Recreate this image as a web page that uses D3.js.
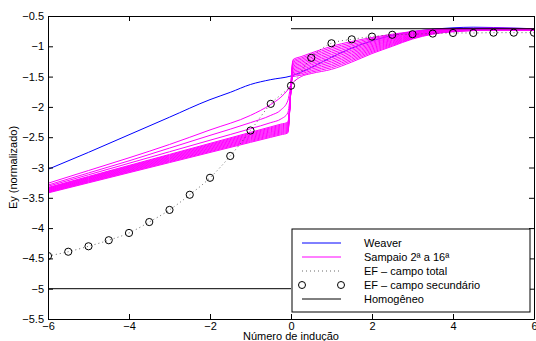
<!DOCTYPE html>
<html>
<head>
<meta charset="utf-8">
<script src="https://cdn.jsdelivr.net/npm/d3@7"></script>
<style>
  body { margin: 0; background: #fff; }
  svg { display: block; font-family: "Liberation Sans", Arial, sans-serif; }
  .tick text { font-size: 11px; fill: #000; }
  .legend-text { font-size: 11px; fill: #000; }
  .axis-title { font-size: 11px; fill: #000; }
</style>
</head>
<body>
<svg id="chart" width="536" height="341"></svg>
<script>
// Weaver analytic solution
const weaverX = [-6, -5, -4, -3, -2, -1.5, -1, -0.5, 0, 0.5, 1, 1.5, 2, 2.5, 3, 3.5, 4, 4.5, 5, 5.5, 6];
const weaverY = [-3.03, -2.75, -2.46, -2.17, -1.88, -1.76, -1.63, -1.55, -1.49, -1.35, -1.18, -1.03, -0.91, -0.82, -0.76, -0.72, -0.695, -0.685, -0.69, -0.70, -0.71];

// Sampaio approximations, 2nd to 16th order (shared x grid)
const sampaioX = [-6, -5, -4, -3, -2, -1, -0.5, -0.25, -0.08, 0.05, 0.25, 0.5, 1, 1.5, 2, 2.5, 3, 3.5, 4, 5, 6];
const sampaio02 = [-3.26, -3.05, -2.84, -2.62, -2.38, -2.14, -1.96, -1.84, -1.72, -1.60, -1.50, -1.45, -1.38, -1.26, -1.12, -1.0, -0.88, -0.80, -0.76, -0.735, -0.735];
const sampaio03 = [-3.29, -3.09, -2.89, -2.68, -2.47, -2.26, -2.14, -2.05, -1.9, -1.50, -1.477, -1.426, -1.353, -1.236, -1.101, -0.986, -0.871, -0.794, -0.756, -0.733, -0.733];
const sampaio04 = [-3.31, -3.12, -2.93, -2.74, -2.55, -2.36, -2.26, -2.2, -2.1, -1.478, -1.453, -1.402, -1.326, -1.212, -1.082, -0.971, -0.862, -0.789, -0.752, -0.73, -0.731];
const sampaio05 = [-3.33, -3.148, -2.966, -2.784, -2.602, -2.42, -2.329, -2.284, -2.253, -1.457, -1.43, -1.377, -1.299, -1.187, -1.063, -0.957, -0.853, -0.783, -0.748, -0.728, -0.73];
const sampaio06 = [-3.338, -3.157, -2.977, -2.796, -2.616, -2.435, -2.345, -2.3, -2.269, -1.435, -1.406, -1.353, -1.271, -1.163, -1.044, -0.943, -0.844, -0.777, -0.744, -0.725, -0.728];
const sampaio07 = [-3.346, -3.167, -2.988, -2.808, -2.629, -2.45, -2.36, -2.316, -2.285, -1.414, -1.382, -1.329, -1.244, -1.139, -1.025, -0.929, -0.835, -0.771, -0.74, -0.723, -0.726];
const sampaio08 = [-3.354, -3.176, -2.998, -2.821, -2.643, -2.465, -2.376, -2.332, -2.301, -1.392, -1.359, -1.304, -1.217, -1.114, -1.006, -0.914, -0.826, -0.766, -0.736, -0.72, -0.724];
const sampaio09 = [-3.362, -3.186, -3.009, -2.833, -2.656, -2.48, -2.392, -2.348, -2.318, -1.371, -1.335, -1.28, -1.19, -1.09, -0.988, -0.9, -0.818, -0.76, -0.732, -0.718, -0.723];
const sampaio10 = [-3.37, -3.195, -3.02, -2.845, -2.67, -2.495, -2.408, -2.364, -2.334, -1.349, -1.312, -1.256, -1.163, -1.066, -0.969, -0.886, -0.809, -0.754, -0.728, -0.715, -0.721];
const sampaio11 = [-3.378, -3.204, -3.031, -2.857, -2.684, -2.51, -2.423, -2.38, -2.35, -1.328, -1.288, -1.232, -1.136, -1.042, -0.95, -0.871, -0.8, -0.749, -0.725, -0.713, -0.719];
const sampaio12 = [-3.386, -3.214, -3.042, -2.869, -2.697, -2.525, -2.439, -2.396, -2.367, -1.306, -1.264, -1.207, -1.109, -1.017, -0.931, -0.857, -0.791, -0.743, -0.721, -0.71, -0.717];
const sampaio13 = [-3.394, -3.223, -3.052, -2.882, -2.711, -2.54, -2.455, -2.412, -2.383, -1.285, -1.241, -1.183, -1.081, -0.993, -0.912, -0.843, -0.782, -0.737, -0.717, -0.708, -0.715];
const sampaio14 = [-3.402, -3.233, -3.064, -2.894, -2.725, -2.555, -2.47, -2.428, -2.399, -1.263, -1.217, -1.159, -1.054, -0.969, -0.893, -0.829, -0.773, -0.731, -0.713, -0.705, -0.714];
const sampaio15 = [-3.41, -3.242, -3.074, -2.906, -2.738, -2.57, -2.486, -2.444, -2.415, -1.242, -1.194, -1.134, -1.027, -0.944, -0.874, -0.814, -0.764, -0.726, -0.709, -0.703, -0.712];
const sampaio16 = [-3.42, -3.253, -3.086, -2.919, -2.752, -2.585, -2.502, -2.46, -2.431, -1.22, -1.17, -1.11, -1.0, -0.92, -0.855, -0.8, -0.755, -0.72, -0.705, -0.70, -0.71];
const sampaioCurves = [sampaio02, sampaio03, sampaio04, sampaio05, sampaio06, sampaio07, sampaio08, sampaio09,
  sampaio10, sampaio11, sampaio12, sampaio13, sampaio14, sampaio15, sampaio16];

// Finite elements (total field line + secondary field markers)
const efX = [-6, -5.5, -5, -4.5, -4, -3.5, -3, -2.5, -2, -1.5, -1, -0.5, 0, 0.5, 1, 1.5, 2, 2.5, 3, 3.5, 4, 4.5, 5, 5.5, 6];
const efY = [-4.46, -4.39, -4.30, -4.20, -4.08, -3.90, -3.70, -3.45, -3.17, -2.81, -2.39, -1.95, -1.65, -1.19, -0.95, -0.885, -0.84, -0.81, -0.80, -0.79, -0.78, -0.78, -0.775, -0.775, -0.775];

// Homogeneous half-spaces
const homLeftX = [-6, 0];
const homLeftY = [-5, -5];
const homRightX = [0, 6];
const homRightY = [-0.71, -0.71];

const xTicks = [-6, -4, -2, 0, 2, 4, 6];
const yTicks = [-5.5, -5, -4.5, -4, -3.5, -3, -2.5, -2, -1.5, -1, -0.5];

const legendLabels = ["Weaver", "Sampaio 2\u00aa a 16\u00aa", "EF \u2013 campo total", "EF \u2013 campo secund\u00e1rio", "Homog\u00eaneo"];

const svg = d3.select("#chart");
const plot = { left: 48, right: 534, top: 16, bottom: 319 };

const x = d3.scaleLinear().domain([-6, 6]).range([plot.left, plot.right]);
const y = d3.scaleLinear().domain([-5.5, -0.5]).range([plot.bottom, plot.top]);

svg.append("defs").append("clipPath").attr("id", "clip")
  .append("rect")
  .attr("x", plot.left).attr("y", plot.top)
  .attr("width", plot.right - plot.left).attr("height", plot.bottom - plot.top);

const zip = (xs, ys) => xs.map((v, i) => [v, ys[i]]);
const line = d3.line().x(d => x(d[0])).y(d => y(d[1]));
const smooth = d3.line().x(d => x(d[0])).y(d => y(d[1])).curve(d3.curveMonotoneX);

const g = svg.append("g").attr("clip-path", "url(#clip)");

// Weaver
g.append("path")
  .datum(zip(weaverX, weaverY))
  .attr("d", smooth)
  .attr("fill", "none")
  .attr("stroke", "#0000ff")
  .attr("stroke-width", 1);

// Sampaio family
sampaioCurves.forEach(c => {
  g.append("path")
    .datum(zip(sampaioX, c))
    .attr("d", smooth)
    .attr("fill", "none")
    .attr("stroke", "#ff00ff")
    .attr("stroke-width", 1);
});

// EF total field (dotted)
g.append("path")
  .datum(zip(efX, efY))
  .attr("d", smooth)
  .attr("fill", "none")
  .attr("stroke", "#444")
  .attr("stroke-width", 0.8)
  .attr("stroke-dasharray", "1,3");

// EF secondary field (circles)
g.selectAll("circle.ef")
  .data(zip(efX, efY))
  .join("circle")
  .attr("class", "ef")
  .attr("cx", d => x(d[0]))
  .attr("cy", d => y(d[1]))
  .attr("r", 3.6)
  .attr("fill", "none")
  .attr("stroke", "#000")
  .attr("stroke-width", 1);

// Homogeneous
[[homLeftX, homLeftY], [homRightX, homRightY]].forEach(([hx, hy]) => {
  g.append("path")
    .datum(zip(hx, hy))
    .attr("d", line)
    .attr("fill", "none")
    .attr("stroke", "#000")
    .attr("stroke-width", 1);
});

// Axes (MATLAB style box with inward ticks)
const fmt = d3.format("");
svg.append("g")
  .attr("transform", `translate(0,${plot.bottom})`)
  .call(d3.axisBottom(x).tickValues(xTicks).tickFormat(fmt).tickSizeInner(-5).tickSizeOuter(0).tickPadding(3));
svg.append("g")
  .attr("transform", `translate(${plot.left},0)`)
  .call(d3.axisLeft(y).tickValues(yTicks).tickFormat(fmt).tickSizeInner(-5).tickSizeOuter(0).tickPadding(4));
svg.append("g")
  .attr("transform", `translate(0,${plot.top})`)
  .call(d3.axisTop(x).tickValues(xTicks).tickFormat("").tickSizeInner(-5).tickSizeOuter(0));
svg.append("g")
  .attr("transform", `translate(${plot.right},0)`)
  .call(d3.axisRight(y).tickValues(yTicks).tickFormat("").tickSizeInner(-5).tickSizeOuter(0));

svg.selectAll(".tick text").style("font-family", "'Liberation Sans', Arial, sans-serif");

// Axis titles
svg.append("text")
  .attr("class", "axis-title")
  .attr("x", x(0))
  .attr("y", 340)
  .attr("text-anchor", "middle")
  .text("N\u00famero de indu\u00e7\u00e3o");
svg.append("text")
  .attr("class", "axis-title")
  .attr("transform", `translate(17,${(plot.top + plot.bottom) / 2}) rotate(-90)`)
  .attr("text-anchor", "middle")
  .text("Ey (normalizado)");

// Legend
const legend = svg.append("g");
legend.append("rect")
  .attr("x", 292).attr("y", 229)
  .attr("width", 238).attr("height", 83)
  .attr("fill", "#fff").attr("stroke", "#000").attr("stroke-width", 1);

const rowY = d3.scalePoint().domain(legendLabels).range([243, 299]);
const lx1 = 302, lx2 = 341;

legendLabels.forEach((lab, i) => {
  const yy = rowY(lab);
  if (i === 0 || i === 1 || i === 4) {
    legend.append("line")
      .attr("x1", lx1).attr("x2", lx2).attr("y1", yy).attr("y2", yy)
      .attr("stroke", i === 0 ? "#0000ff" : i === 1 ? "#ff00ff" : "#000")
      .attr("stroke-width", 1);
  } else if (i === 2) {
    legend.append("line")
      .attr("x1", lx1).attr("x2", lx2).attr("y1", yy).attr("y2", yy)
      .attr("stroke", "#444").attr("stroke-width", 0.8).attr("stroke-dasharray", "1,3");
  } else {
    [lx1, lx2].forEach(cx => {
      legend.append("circle")
        .attr("cx", cx).attr("cy", yy).attr("r", 3.5)
        .attr("fill", "none").attr("stroke", "#000").attr("stroke-width", 1);
    });
  }
  legend.append("text")
    .attr("class", "legend-text")
    .attr("x", 364)
    .attr("y", yy)
    .attr("dy", "0.35em")
    .text(lab);
});
</script>
</body>
</html>
